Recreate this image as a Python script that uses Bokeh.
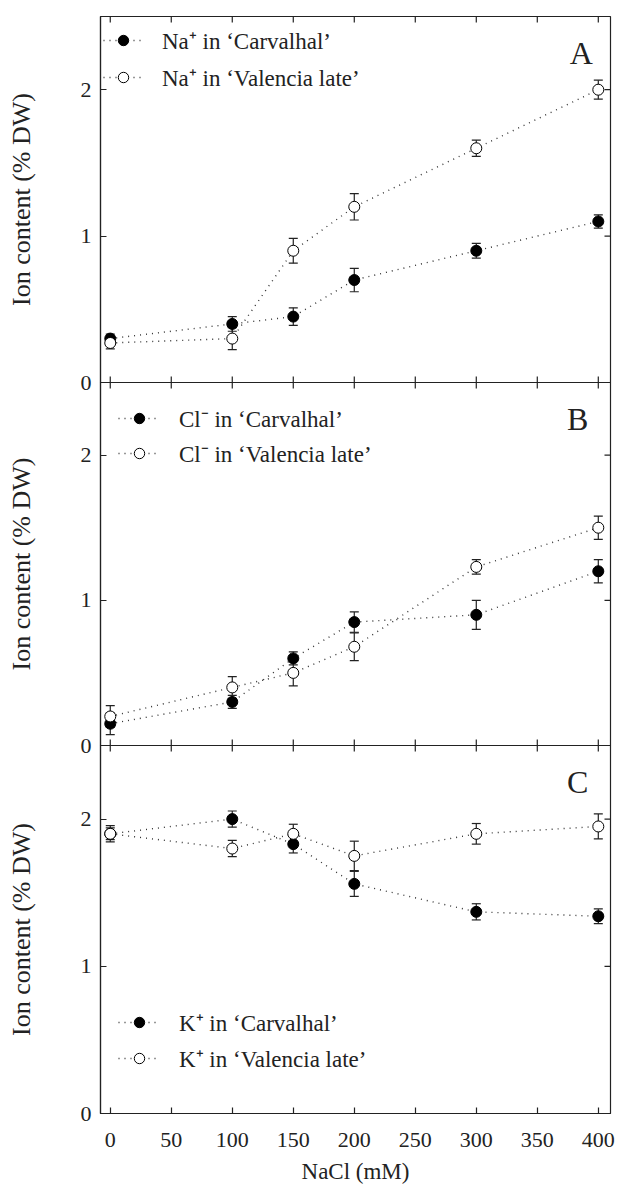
import math
from bokeh.plotting import figure
from bokeh.layouts import column
from bokeh.models import (LinearAxis, Whisker, TeeHead, ColumnDataSource, Range1d,
                          FixedTicker, Label, Legend, LegendItem)
from bokeh.embed import file_html
from bokeh.resources import INLINE

# ---------------- data ----------------
nacl = [0, 100, 150, 200, 300, 400]
x_ticks = [0, 50, 100, 150, 200, 250, 300, 350, 400]
y_ticks = [0, 1, 2]
x_lim = (-8, 410)
y_lim = (0, 2.5)

na_carv = [0.30, 0.40, 0.45, 0.70, 0.90, 1.10]
na_carv_err = [0.03, 0.05, 0.06, 0.08, 0.05, 0.045]
na_val = [0.27, 0.30, 0.90, 1.20, 1.60, 2.00]
na_val_err = [0.04, 0.075, 0.085, 0.09, 0.055, 0.065]

cl_carv = [0.15, 0.30, 0.60, 0.85, 0.90, 1.20]
cl_carv_err = [0.075, 0.045, 0.045, 0.07, 0.10, 0.08]
cl_val = [0.20, 0.40, 0.50, 0.68, 1.23, 1.50]
cl_val_err = [0.075, 0.075, 0.09, 0.095, 0.05, 0.08]

k_carv = [1.90, 2.00, 1.83, 1.56, 1.37, 1.34]
k_carv_err = [0.04, 0.055, 0.06, 0.085, 0.055, 0.05]
k_val = [1.90, 1.80, 1.90, 1.75, 1.90, 1.95]
k_val_err = [0.055, 0.055, 0.065, 0.10, 0.07, 0.085]

labels_a = ["Na\u207a in \u2018Carvalhal\u2019", "Na\u207a in \u2018Valencia late\u2019"]
labels_b = ["Cl\u207b in \u2018Carvalhal\u2019", "Cl\u207b in \u2018Valencia late\u2019"]
labels_c = ["K\u207a in \u2018Carvalhal\u2019", "K\u207a in \u2018Valencia late\u2019"]

y_label = "Ion content (% DW)"
x_label = "NaCl (mM)"

FONT = "Liberation Serif"
INK = "#222222"
FRAME_W = 510
OVERLAP = 14


def panel(letter, carv, carv_err, val, val_err, labels, frame_h, top_b, bot_b,
          legend_loc, legend_x, legend_spacing, letter_x, show_x_labels):
    p = figure(frame_width=FRAME_W, frame_height=frame_h,
               x_range=Range1d(*x_lim), y_range=Range1d(*y_lim),
               output_backend="svg", toolbar_location=None,
               min_border_left=100, min_border_right=13,
               min_border_top=top_b, min_border_bottom=bot_b,
               x_axis_location=None, y_axis_location=None)
    p.background_fill_alpha = 0
    p.border_fill_alpha = 0
    p.outline_line_color = INK
    p.outline_line_width = 1.2
    p.xgrid.visible = False
    p.ygrid.visible = False

    left = LinearAxis(ticker=FixedTicker(ticks=y_ticks))
    left.major_tick_in = 6
    left.major_tick_out = 0
    left.minor_tick_line_color = None
    left.axis_line_color = INK
    left.axis_line_width = 1.2
    left.major_tick_line_color = INK
    left.major_tick_line_width = 1.2
    left.major_label_text_font = FONT
    left.major_label_text_font_size = "22px"
    left.major_label_text_color = INK
    left.major_label_standoff = 9
    p.add_layout(left, "left")

    # label-only axis carrying the y-axis title, placed further out
    lab = LinearAxis(ticker=FixedTicker(ticks=[]))
    lab.axis_line_color = None
    lab.major_tick_line_color = None
    lab.minor_tick_line_color = None
    lab.major_tick_in = 0
    lab.major_tick_out = 0
    lab.axis_label = y_label
    lab.axis_label_text_font = FONT
    lab.axis_label_text_font_size = "26px"
    lab.axis_label_text_font_style = "normal"
    lab.axis_label_text_color = INK
    lab.axis_label_standoff = 42
    p.add_layout(lab, "left")

    if show_x_labels:
        bottom = LinearAxis(ticker=FixedTicker(ticks=x_ticks))
        bottom.major_tick_in = 6
        bottom.major_tick_out = 0
        bottom.minor_tick_line_color = None
        bottom.axis_line_color = INK
        bottom.axis_line_width = 1.2
        bottom.major_tick_line_color = INK
        bottom.major_tick_line_width = 1.2
        bottom.major_label_text_font = FONT
        bottom.major_label_text_font_size = "22px"
        bottom.major_label_text_color = INK
        bottom.major_label_standoff = 19
        bottom.axis_label = x_label
        bottom.axis_label_text_font = FONT
        bottom.axis_label_text_font_size = "23px"
        bottom.axis_label_text_font_style = "normal"
        bottom.axis_label_text_color = INK
        bottom.axis_label_standoff = 9
        p.add_layout(bottom, "below")
    else:
        # inward tick marks on the bottom edge (half of each dash is clipped)
        p.scatter(x_ticks, [y_lim[0]] * len(x_ticks), marker="dash", size=12,
                  angle=math.pi / 2, line_color=INK, line_width=1.2)

    # inward tick marks on top and right edges
    p.scatter(x_ticks, [y_lim[1]] * len(x_ticks), marker="dash", size=12,
              angle=math.pi / 2, line_color=INK, line_width=1.2)
    p.scatter([x_lim[1]] * len(y_ticks), y_ticks, marker="dash", size=12,
              line_color=INK, line_width=1.2)

    # error bars
    for vals, errs in ((carv, carv_err), (val, val_err)):
        src = ColumnDataSource(dict(
            x=nacl,
            upper=[v + e for v, e in zip(vals, errs)],
            lower=[v - e for v, e in zip(vals, errs)]))
        w = Whisker(source=src, base="x", upper="upper", lower="lower",
                    line_color=INK, line_width=1.2,
                    upper_head=TeeHead(size=9, line_color=INK, line_width=1.2),
                    lower_head=TeeHead(size=9, line_color=INK, line_width=1.2))
        p.add_layout(w)

    l1 = p.line(nacl, carv, line_color="#333333", line_width=1.4, line_dash="1 5")
    l2 = p.line(nacl, val, line_color="#333333", line_width=1.4, line_dash="1 5")
    s1 = p.scatter(nacl, carv, size=11, marker="circle", fill_color="black",
                   line_color="black", line_width=1)
    s2 = p.scatter(nacl, val, size=11, marker="circle", fill_color="white",
                   line_color="black", line_width=1)

    legend = Legend(items=[LegendItem(label=labels[0], renderers=[l1, s1]),
                           LegendItem(label=labels[1], renderers=[l2, s2])],
                    location=legend_loc)
    legend.background_fill_alpha = 0
    legend.border_line_alpha = 0
    legend.label_text_font = FONT
    legend.label_text_font_size = "23px"
    legend.label_text_color = INK
    legend.glyph_width = legend_x
    legend.glyph_height = 26
    legend.label_height = 26
    legend.label_standoff = 19
    legend.padding = 0
    legend.margin = 0
    legend.spacing = legend_spacing
    p.add_layout(legend)

    p.add_layout(Label(x=letter_x, y=2.25, text=letter, text_font=FONT,
                       text_font_size="32px", text_align="center",
                       text_baseline="alphabetic", text_color=INK))
    return p


pA = panel("A", na_carv, na_carv_err, na_val, na_val_err, labels_a,
           366, 16, OVERLAP, (3, 289), 40, 5, 386, False)
pB = panel("B", cl_carv, cl_carv_err, cl_val, cl_val_err, labels_b,
           363, 0, OVERLAP, (18, 276), 42, 3, 383, False)
pC = panel("C", k_carv, k_carv_err, k_val, k_val_err, labels_c,
           368, 0, 0, (18, 39), 42, 4, 383, True)
pB.margin = (-OVERLAP, 0, 0, 0)
pC.margin = (-OVERLAP, 0, 0, 0)

layout = column(pA, pB, pC, spacing=0)
open("out.html", "w").write(file_html(layout, INLINE))
